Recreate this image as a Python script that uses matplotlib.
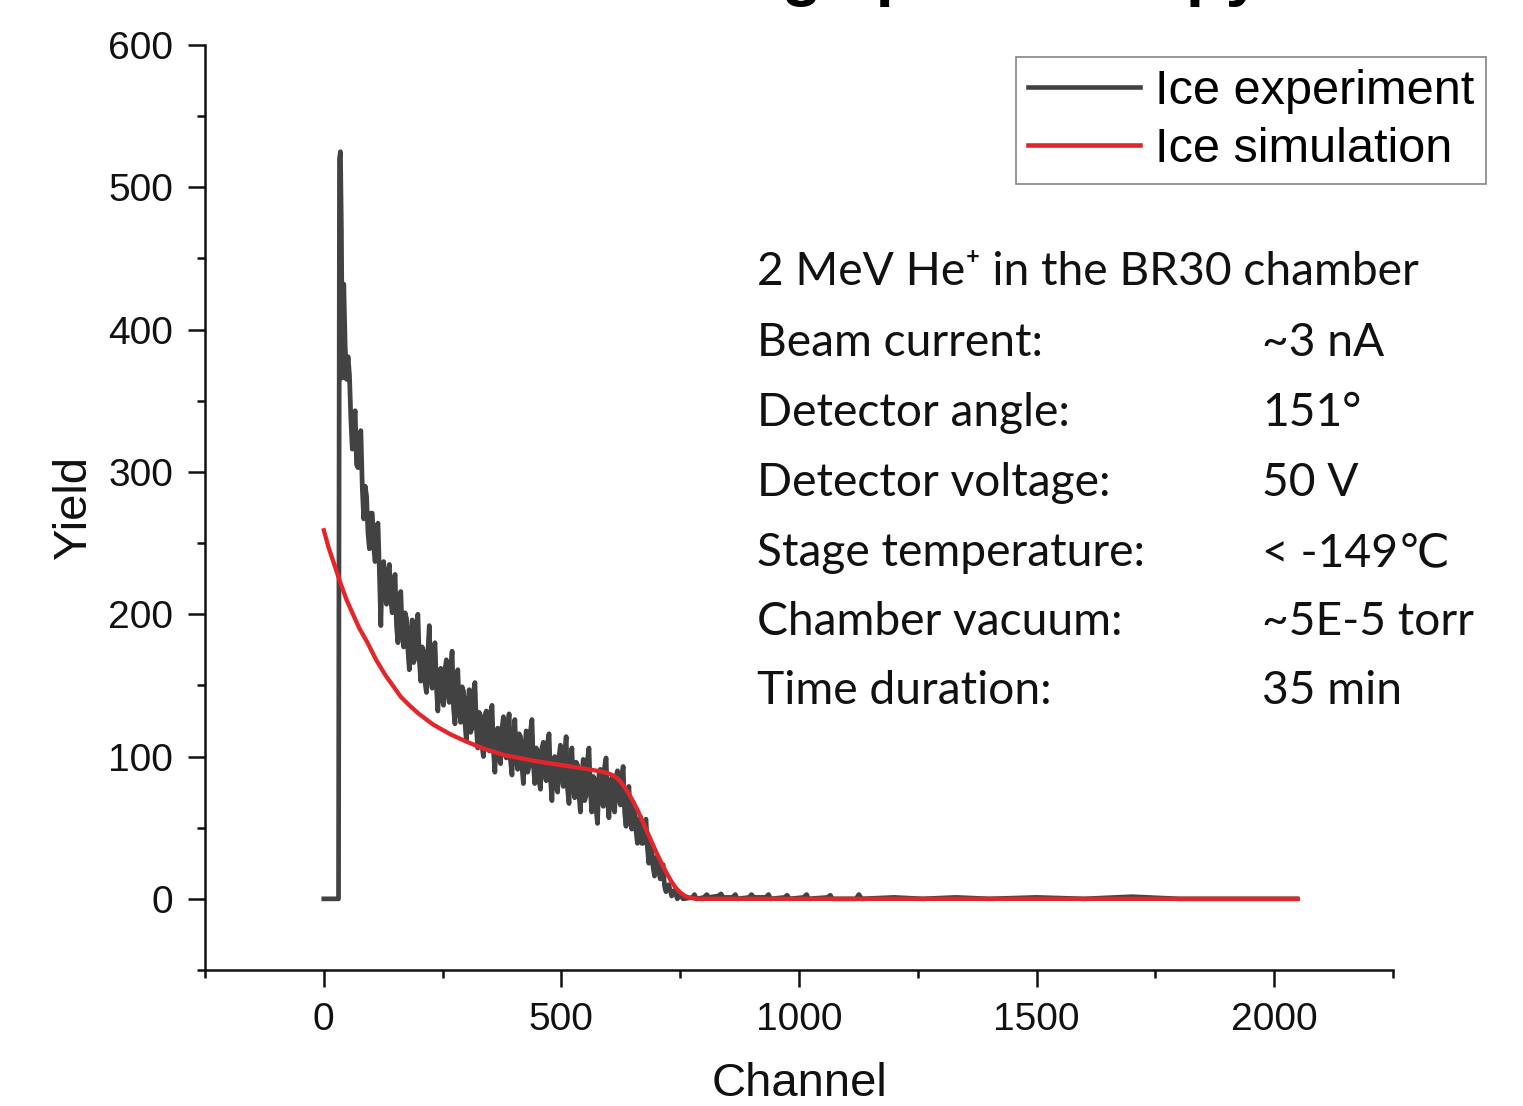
import matplotlib
matplotlib.use("Agg")
import matplotlib.pyplot as plt
from matplotlib.ticker import MultipleLocator

# ---------------- data ----------------
exp_channel = [0, 31, 33, 35, 37, 39,
               42, 45, 48, 51, 54, 57, 60, 63, 66, 69, 72, 75, 78, 81, 84, 87,
               90, 93, 96, 99, 102, 105, 108, 111, 114, 117, 120, 123, 126, 129,
               132, 135, 138, 141, 144, 147, 150, 153, 156, 159, 162, 165, 168,
               171, 174, 177, 180, 183, 186, 189, 192, 195, 198, 201, 204, 207,
               210, 213, 216, 219, 222, 225, 228, 231, 234, 237, 240, 243, 246,
               249, 252, 255, 258, 261, 264, 267, 270, 273, 276, 279, 282, 285,
               288, 291, 294, 297, 300, 303, 306, 309, 312, 315, 318, 321, 324,
               327, 330, 333, 336, 339, 342, 345, 348, 351, 354, 357, 360, 363,
               366, 369, 372, 375, 378, 381, 384, 387, 390, 393, 396, 399, 402,
               405, 408, 411, 414, 417, 420, 423, 426, 429, 432, 435, 438, 441,
               444, 447, 450, 453, 456, 459, 462, 465, 468, 471, 474, 477, 480,
               483, 486, 489, 492, 495, 498, 501, 504, 507, 510, 513, 516, 519,
               522, 525, 528, 531, 534, 537, 540, 543, 546, 549, 552, 555, 558,
               561, 564, 567, 570, 573, 576, 579, 582, 585, 588, 591, 594, 597,
               600, 603, 606, 609, 612, 615, 618, 621, 624, 627, 630, 633, 636,
               639, 642, 645, 648, 651, 654, 657, 660, 663, 666, 669, 672, 675,
               678, 681, 684, 687, 690, 693, 696, 699, 702, 705, 708, 711, 714,
               717, 720, 726, 732, 738, 744, 750, 756,
               776, 780, 784, 800, 806, 810, 830, 836, 840, 860, 866, 870, 895,
               900, 905, 930, 936, 940, 970, 975, 980, 1010, 1016, 1020, 1060,
               1066, 1070, 1120, 1126, 1132, 1200, 1260, 1330, 1400, 1500, 1600,
               1700, 1800, 2047]
exp_yield = [0, 0, 520, 525, 470, 366,
             432, 388, 365, 381, 368, 337, 316, 336, 343, 305, 303, 326, 329, 289, 267, 290,
             283, 257, 246, 271, 271, 247, 237, 261, 264, 230, 192, 234, 237, 214,
             207, 230, 235, 210, 201, 222, 228, 192, 180, 204, 216, 187, 177,
             201, 197, 175, 161, 185, 196, 166, 169, 193, 200, 168, 153, 177,
             174, 152, 145, 173, 192, 155, 148, 175, 180, 149, 132, 157, 162,
             141, 136, 161, 168, 145, 138, 161, 174, 134, 123, 148, 161, 133,
             124, 149, 146, 124, 111, 136, 147, 117, 120, 145, 152, 121, 106,
             131, 128, 107, 100, 129, 132, 111, 104, 131, 136, 105, 89, 114,
             120, 99, 95, 120, 128, 105, 99, 122, 130, 97, 87, 112, 126,
             99, 91, 116, 114, 93, 81, 106, 118, 89, 93, 118, 126, 95,
             81, 106, 104, 83, 77, 106, 110, 89, 83, 110, 116, 85, 69,
             94, 100, 79, 75, 100, 108, 85, 79, 102, 114, 77, 67, 92,
             106, 79, 71, 96, 94, 73, 61, 86, 98, 69, 73, 98, 106,
             75, 61, 86, 84, 63, 53, 87, 91, 71, 65, 93, 99, 69,
             57, 79, 85, 65, 61, 86, 90, 71, 66, 86, 93, 61, 51,
             71, 79, 56, 49, 68, 64, 48, 39, 52, 58, 39, 39, 53,
             56, 36, 25, 39, 36, 22, 16, 29, 29, 19, 14, 22, 24,
             9, 5, 10, 2, 6, 0, 3, 0,
             1, 3, 0, 1, 3, 1, 2, 3.5, 1, 1, 3, 0, 1,
             3, 1, 1, 3, 0, 1, 2.5, 0, 1, 3, 0, 1,
             2.5, 0, 0, 3, 0, 1, 0, 1, 0, 1, 0,
             1.5, 0, 0]

sim_channel = [0, 10, 20, 36, 48, 60, 75, 92, 110, 130, 145, 162, 180, 200,
               230, 267, 300, 337, 380, 442, 500, 540, 583, 600, 610, 620, 630,
               640, 650, 660, 670, 680, 690, 700, 710, 720, 730, 740, 750, 760,
               770, 780, 790, 2050]
sim_yield = [259, 247, 237, 221, 210, 201, 190, 180, 168, 157, 150, 142, 136,
             130, 122.5, 115.5, 110.5, 105.5, 101, 97, 94, 92, 89.5, 88, 86.5,
             84, 80, 75, 69, 62.5, 55, 47.5, 40, 32.5, 25.5, 19, 13, 8, 4.5, 2,
             0.8, 0.2, 0, 0]

series_labels = ["Ice experiment", "Ice simulation"]
info_title = "2 MeV He\u207a in the BR30 chamber"
info_labels = ["Beam current:", "Detector angle:", "Detector voltage:",
               "Stage temperature:", "Chamber vacuum:", "Time duration:"]
info_values = ["~3 nA", "151\u00b0", "50 V", "< -149\u2103", "~5E-5 torr", "35 min"]
x_ticks = [0, 500, 1000, 1500, 2000]
y_ticks = [0, 100, 200, 300, 400, 500, 600]
title_text = "Rutherford backscattering spectroscopy"

# ---------------- figure ----------------
W, H = 1523, 1106
fig = plt.figure(figsize=(W / 100, H / 100), dpi=100)
ax = fig.add_axes([205 / W, 1 - 970 / H, (1393 - 205) / W, (970 - 45) / H])

ax.plot(exp_channel, exp_yield, color="#424242", lw=3.4, label=series_labels[0],
        solid_joinstyle="round")
ax.plot(sim_channel, sim_yield, color="#E3262B", lw=3.1, label=series_labels[1])

ax.set_xlim(-250, 2250)
ax.set_ylim(-50, 600)
ax.set_xticks(x_ticks)
ax.set_yticks(y_ticks)
ax.xaxis.set_minor_locator(MultipleLocator(250))
ax.yaxis.set_minor_locator(MultipleLocator(50))

for s in ["top", "right"]:
    ax.spines[s].set_visible(False)
for s in ["left", "bottom"]:
    ax.spines[s].set_linewidth(1.8)
    ax.spines[s].set_color("#111111")

tick_font = "Liberation Sans"
ax.tick_params(axis="both", which="major", direction="out", length=12, width=1.8,
               pad=11, labelsize=28, colors="#111111")
ax.tick_params(axis="both", which="minor", direction="out", length=6, width=1.8,
               colors="#111111")
for lab in ax.get_xticklabels() + ax.get_yticklabels():
    lab.set_fontfamily(tick_font)

ax.set_xlabel("Channel", fontsize=34, family=tick_font, labelpad=17, color="#111111")
ax.set_ylabel("Yield", fontsize=34, family=tick_font, labelpad=9, color="#111111")

leg = ax.legend(loc="upper right", bbox_to_anchor=(1486 / W, 1 - 57 / H),
                bbox_transform=fig.transFigure, borderaxespad=0,
                prop={"family": tick_font, "size": 35}, frameon=True,
                fancybox=False, borderpad=0.25, handlelength=2.3,
                handletextpad=0.3, labelspacing=0.26)
leg.get_frame().set_edgecolor("#666666")
leg.get_frame().set_linewidth(1.2)
for ln in leg.get_lines():
    ln.set_linewidth(3.3)

info_font = ["Lato", "DejaVu Sans"]
info_size = 33.2
row_y = [272, 343, 413, 483, 553, 622, 691]
fig.text(757 / W, 1 - row_y[0] / H, info_title, family=info_font, fontsize=info_size,
         va="center", ha="left", color="#111111")
for i, (lab, val) in enumerate(zip(info_labels, info_values)):
    fig.text(757 / W, 1 - row_y[i + 1] / H, lab, family=info_font, fontsize=info_size,
             va="center", ha="left", color="#111111")
    fig.text(1262 / W, 1 - row_y[i + 1] / H, val, family=info_font, fontsize=info_size,
             va="center", ha="left", color="#111111")

# page title, cut by the top edge in the reference
fig.text(1262 / W, 1 + 5.7 / H, title_text, family="Liberation Sans",
         fontweight="bold", fontsize=46.8, ha="right", va="baseline", color="black")

fig.savefig("out.png", dpi=100)
